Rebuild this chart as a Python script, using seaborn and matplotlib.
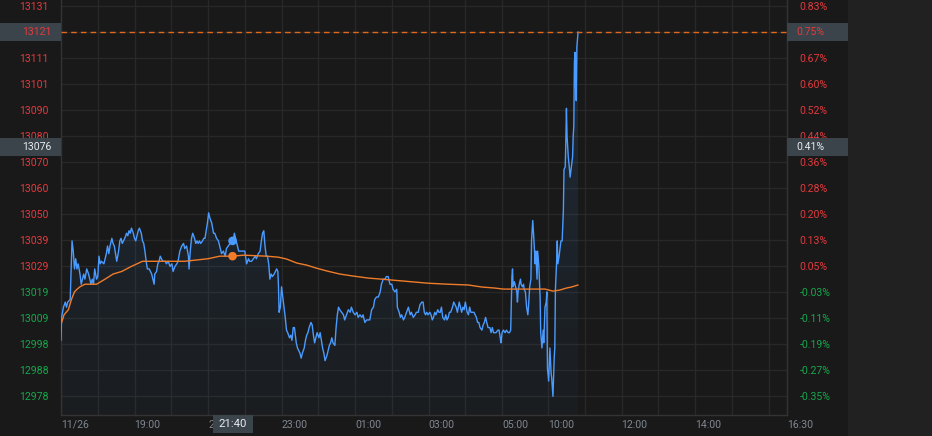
import numpy as np
import matplotlib
matplotlib.use('Agg')
import matplotlib.pyplot as plt
import matplotlib.transforms as mtransforms
from matplotlib.patches import Rectangle
from matplotlib.colors import to_rgb
import seaborn as sns

# --- dados do分时 (minutos desde 17:00 de 11/26; pregão diurno 09:00 começa em 735) ---
t_price = [
    0, 1, 4, 7, 9, 11, 15, 16, 17, 18, 20, 22, 24, 26, 28,
    31, 33, 35, 37, 39, 42, 45, 47, 49, 51, 53, 55, 58, 60, 62,
    64, 66, 70, 72, 74, 76, 78, 80, 83, 85, 87, 89, 91, 94, 96,
    98, 100, 102, 104, 107, 109, 111, 113, 115, 118, 120, 122, 124, 126, 128,
    131, 133, 135, 137, 139, 141, 144, 146, 148, 150, 152, 153, 156, 158, 160,
    162, 164, 166, 170, 172, 175, 178, 181, 183, 186, 189, 191, 194, 197, 200,
    202, 205, 208, 209, 211, 213, 215, 218, 220, 222, 224, 226, 228, 231, 233,
    235, 237, 239, 241, 243, 246, 249, 251, 254, 257, 259, 262, 265, 268, 270,
    273, 276, 280, 281, 283, 286, 288, 290, 292, 295, 298, 300, 303, 306, 308,
    311, 314, 317, 319, 322, 325, 327, 329, 331, 333, 335, 337, 339, 341, 343,
    345, 348, 350, 352, 354, 355, 356, 358, 360, 362, 364, 366, 368, 370, 373,
    375, 377, 379, 381, 384, 386, 388, 390, 392, 394, 397, 399, 401, 403, 405,
    408, 410, 412, 414, 416, 418, 421, 423, 425, 427, 429, 431, 434, 436, 438,
    440, 442, 444, 447, 449, 451, 453, 455, 458, 461, 463, 466, 469, 472, 474,
    477, 480, 483, 485, 488, 491, 493, 496, 499, 502, 504, 507, 510, 512, 515,
    518, 521, 523, 526, 529, 531, 534, 537, 540, 542, 545, 548, 549, 552, 554,
    556, 559, 561, 564, 567, 570, 572, 575, 578, 580, 583, 586, 589, 591, 593,
    595, 597, 599, 602, 604, 606, 608, 610, 612, 615, 617, 619, 621, 623, 626,
    628, 630, 632, 634, 636, 639, 641, 643, 645, 647, 650, 652, 654, 656, 658,
    660, 663, 665, 667, 669, 671, 674, 676, 678, 680, 682, 684, 687, 689, 691,
    693, 695, 697, 700, 702, 704, 706, 708, 710, 713, 715, 717, 718, 720, 722,
    725, 727, 730, 732, 734,
    736, 737, 738, 740, 742, 744, 745, 746, 748, 750, 751, 753, 755, 756, 758,
    760, 762, 763, 765, 767, 768, 770, 772, 774, 775, 777, 778, 780, 782, 783,
    785, 787, 788, 790, 792, 793, 794, 796, 797, 798, 800, 801, 803, 805, 806,
    807, 809, 810, 811, 813, 815, 816, 818, 820, 821, 823, 824, 825, 826, 828,
    830, 831, 833, 835, 836, 837, 838, 839, 840, 841, 842, 844,
]
price = [
    13000, 13009, 13013, 13015, 13013, 13015, 13016, 13024, 13031, 13039, 13035, 13028, 13032, 13028, 13030,
    13026, 13022, 13024, 13026, 13024, 13028, 13026, 13024, 13022, 13024, 13022, 13028, 13024, 13025, 13033,
    13030, 13031, 13030, 13032, 13034, 13037, 13034, 13037, 13040, 13038, 13037, 13034, 13031, 13035, 13039,
    13040, 13038, 13039, 13040, 13042, 13041, 13043, 13042, 13044, 13042, 13040, 13039, 13041, 13043, 13044,
    13042, 13039, 13038, 13035, 13031, 13028, 13028, 13027, 13026, 13024, 13022, 13026, 13027, 13030, 13031,
    13033, 13032, 13031, 13031, 13030, 13031, 13029, 13030, 13027, 13029, 13030, 13031, 13035, 13037, 13038,
    13036, 13037, 13033, 13028, 13035, 13040, 13042, 13040, 13038, 13039, 13038, 13039, 13038, 13039, 13040,
    13040, 13043, 13046, 13050, 13048, 13046, 13042, 13042, 13040, 13039, 13037, 13034, 13035, 13033, 13036,
    13037, 13038, 13039, 13039, 13042, 13039, 13037, 13035, 13035, 13035, 13035, 13035, 13030, 13032, 13031,
    13031, 13032, 13033, 13032, 13034, 13035, 13039, 13042, 13043, 13037, 13033, 13033, 13030, 13024, 13026,
    13025, 13026, 13027, 13028, 13027, 13021, 13011, 13013, 13021, 13017, 13013, 13009, 13004, 13003, 13001,
    13002, 13000, 13005, 13005, 12999, 12997, 12996, 12995, 12993, 12995, 12997, 13000, 13002, 13003, 13005,
    13007, 13006, 13002, 12999, 13001, 13003, 13001, 13003, 13000, 12997, 12995, 12992, 12994, 12996, 12998,
    12999, 13001, 12999, 12998, 13005, 13010, 13013, 13012, 13011, 13010, 13008, 13010, 13012, 13011, 13013,
    13011, 13010, 13011, 13009, 13010, 13009, 13010, 13007, 13008, 13008, 13008, 13012, 13013, 13016, 13017,
    13017, 13019, 13022, 13024, 13024, 13025, 13025, 13022, 13022, 13020, 13019, 13020, 13013, 13011, 13009,
    13010, 13008, 13009, 13011, 13013, 13010, 13011, 13009, 13010, 13011, 13011, 13014, 13015, 13015, 13011,
    13010, 13011, 13010, 13011, 13010, 13008, 13009, 13011, 13010, 13012, 13011, 13011, 13013, 13009, 13008,
    13010, 13008, 13009, 13011, 13011, 13013, 13015, 13014, 13013, 13011, 13015, 13013, 13011, 13013, 13012,
    13015, 13011, 13010, 13013, 13011, 13011, 13011, 13010, 13009, 13007, 13007, 13005, 13004, 13006, 13007,
    13009, 13007, 13005, 13005, 13003, 13005, 13003, 13003, 13003, 13004, 13004, 13001, 12999, 13003, 13004,
    13003, 13004, 13003, 13003, 13004,
    13025, 13028, 13021, 13023, 13021, 13019, 13015, 13019, 13022, 13024, 13022, 13021, 13022, 13020, 13019,
    13013, 13010, 13013, 13021, 13024, 13039, 13047, 13039, 13030, 13035, 13024, 13035, 13029, 13017, 13003,
    12997, 13004, 12999, 13013, 13015, 13019, 12989, 12984, 12990, 12997, 12987, 12985, 12978, 12993, 12997,
    13020, 13031, 13039, 13030, 13033, 13037, 13039, 13039, 13051, 13067, 13068, 13078, 13091, 13080, 13072,
    13067, 13064, 13068, 13072, 13080, 13084, 13109, 13113, 13099, 13094, 13115, 13121,
]
t_avg = [1, 5, 12, 17, 22, 26, 31, 39, 45, 58, 72, 85, 99, 115, 133, 151, 202, 221, 240, 259,
         280, 298, 336, 355, 368, 385, 401, 417, 434, 455, 477, 502, 523, 561, 599, 632, 665, 687,
         708, 722, 734, 736, 790, 803, 814, 825, 833, 844]
avg_price = [13007, 13010, 13012, 13016, 13019, 13020, 13021, 13022, 13022, 13022, 13024, 13026,
             13027, 13029, 13031, 13031, 13031, 13031.5, 13032, 13033, 13033, 13033.4, 13033,
             13032.6, 13031.9, 13030.3, 13029.5, 13028.3, 13027.2, 13026, 13025.2, 13024.4, 13024,
             13023.2, 13022.4, 13022, 13021.7, 13020.9, 13020.5, 13020.1, 13020.1, 13020.1,
             13020.1, 13019.3, 13019.7, 13020.5, 13020.9, 13021.7]
assert len(t_price) == len(price) and len(t_avg) == len(avg_price)

# eixo Y: preço à esquerda, variação % à direita
y_tick_start, y_tick_step = 12978, 10.2
left_labels = ['12978', '12988', '12998', '13009', '13019', '13029', '13039', '13050',
               '13060', '13070', '13080', '13090', '13101', '13111', '13121', '13131']
right_labels = ['-0.35%', '-0.27%', '-0.19%', '-0.11%', '-0.03%', '0.05%', '0.13%', '0.20%',
                '0.28%', '0.36%', '0.44%', '0.52%', '0.60%', '0.67%', '0.75%', '0.83%']

# eixo X
x_tick_pos = [0, 120, 240, 360, 480, 600, 720, 795, 915, 1035, 1185]
x_tick_labels = ['11/26', '19:00', '21:00', '23:00', '01:00', '03:00', '05:00',
                 '10:00', '12:00', '14:00', '16:30']
x_hour_grid = [60, 180, 300, 420, 540, 660, 855, 975, 1095, 1155]

# cursor
cross_t, cross_label = 280, '21:40'
cross_price, cross_pct = 13076, '0.41%'
last_pct = '0.75%'

BG = '#191919'
GRID = '#282828'
RED = '#e23a3e'
GREEN = '#16a64c'
BLUE = '#4a9bff'
ORANGE = '#f07c2a'
BOX = '#3c444b'

sns.set_style('dark')
plt.rcParams['font.family'] = ['Roboto', 'DejaVu Sans']
FS = 7.6

fig = plt.figure(figsize=(9.32, 4.36), dpi=100, facecolor=BG)
ax = fig.add_axes([61 / 932, 21 / 436, 726 / 932, 415 / 436])
ax.set_facecolor(BG)
ymin, ymax = 12970.7, 13133.5
xmin, xmax = 0, 1185

sns.lineplot(x=t_price, y=price, ax=ax, estimator=None, sort=False,
             color=BLUE, linewidth=1.0, zorder=4)
sns.lineplot(x=t_avg, y=avg_price, ax=ax, estimator=None, sort=False,
             color=ORANGE, linewidth=1.0, zorder=5)

# preenchimento degradê abaixo da linha
fill = ax.fill_between(t_price, price, ymin, color='none', lw=0)
grad = np.zeros((256, 1, 4))
grad[..., :3] = to_rgb(BLUE)
grad[:, 0, 3] = np.linspace(0.03, 0.14, 256)
img = ax.imshow(grad, extent=[t_price[0], t_price[-1], ymin, max(price)],
                origin='lower', aspect='auto', zorder=2)
img.set_clip_path(fill.get_paths()[0], ax.transData)

# linha do último preço
ax.axhline(price[-1], color='#e2691c', lw=1.0, ls=(0, (4, 3)), zorder=6)

# pontos do cursor
sns.scatterplot(x=[cross_t], y=[np.interp(cross_t, t_price, price)], ax=ax,
                color=BLUE, s=38, edgecolor='none', zorder=7)
sns.scatterplot(x=[cross_t], y=[np.interp(cross_t, t_avg, avg_price)], ax=ax,
                color=ORANGE, s=38, edgecolor='none', zorder=7)

ax.set_xlim(xmin, xmax)
ax.set_ylim(ymin, ymax)
y_ticks = [y_tick_start + i * y_tick_step for i in range(len(left_labels))]
ax.set_yticks(y_ticks)
ax.set_yticklabels(left_labels)
ax.set_xticks(x_tick_pos)
ax.set_xticklabels(x_tick_labels)
ax.set_xticks(x_hour_grid, minor=True)
ax.set_xlabel('')
ax.set_ylabel('')
ax.grid(True, which='both', color=GRID, lw=1.0)
ax.set_axisbelow(True)
for s in ['left', 'bottom', 'right']:
    ax.spines[s].set_color('#333333')
    ax.spines[s].set_linewidth(1.0)
ax.spines['top'].set_visible(False)

ax2 = ax.twinx()
ax2.set_ylim(ymin, ymax)
ax2.set_yticks(y_ticks)
ax2.set_yticklabels(right_labels)
for s in ax2.spines.values():
    s.set_visible(False)

# estilo dos rótulos (depois do twinx, que reinicia os ticks do eixo esquerdo)
ax.tick_params(axis='y', length=0, pad=9, labelsize=FS)
ax.tick_params(axis='x', which='both', length=0, pad=3.5, labelsize=FS, colors='#7f8792')
ax2.tick_params(axis='y', length=0, pad=9, labelsize=FS)
for lab in ax.get_xticklabels():
    lab.set_ha('left')
for axis_ in (ax, ax2):
    for lab, pct in zip(axis_.get_yticklabels(), right_labels):
        lab.set_color(GREEN if pct.startswith('-') else RED)
        # o rótulo sob a caixa do último preço é mostrado pela própria caixa
        if pct == last_pct:
            lab.set_visible(False)

# painel direito mais claro
fig.add_artist(Rectangle((848 / 932, 0), 84 / 932, 1, transform=fig.transFigure,
                         color='#212121', lw=0, zorder=0.5))

# caixas de rótulo
ytr = mtransforms.blended_transform_factory(fig.transFigure, ax.transData)
px_y = (ymax - ymin) / 415


def price_box(val, ltxt, rtxt, color):
    for x0, w in [(0, 61 / 932), (787 / 932, 61 / 932)]:
        fig.add_artist(Rectangle((x0, val - 9 * px_y), w, 18 * px_y, transform=ytr,
                                 color=BOX, lw=0, zorder=2))
    fig.text(52 / 932, val, ltxt, transform=ytr, ha='right', va='center',
             fontsize=FS, color=color, zorder=3)
    fig.text(796 / 932, val, rtxt, transform=ytr, ha='left', va='center',
             fontsize=FS, color=color, zorder=3)


price_box(price[-1], left_labels[-2], last_pct, RED)
price_box(cross_price, str(cross_price), cross_pct, '#e6ebf0')

xtr = mtransforms.blended_transform_factory(ax.transData, fig.transFigure)
px_x = (xmax - xmin) / 726
fig.add_artist(Rectangle((cross_t - 20 * px_x, 3 / 436), 40 * px_x, 18 / 436, transform=xtr,
                         color=BOX, lw=0, zorder=2))
fig.text(cross_t, 12 / 436, cross_label, transform=xtr, ha='center', va='center',
         fontsize=FS + 0.6, color='#e6ebf0', zorder=3)

fig.savefig('out.png', dpi=100, facecolor=BG)
